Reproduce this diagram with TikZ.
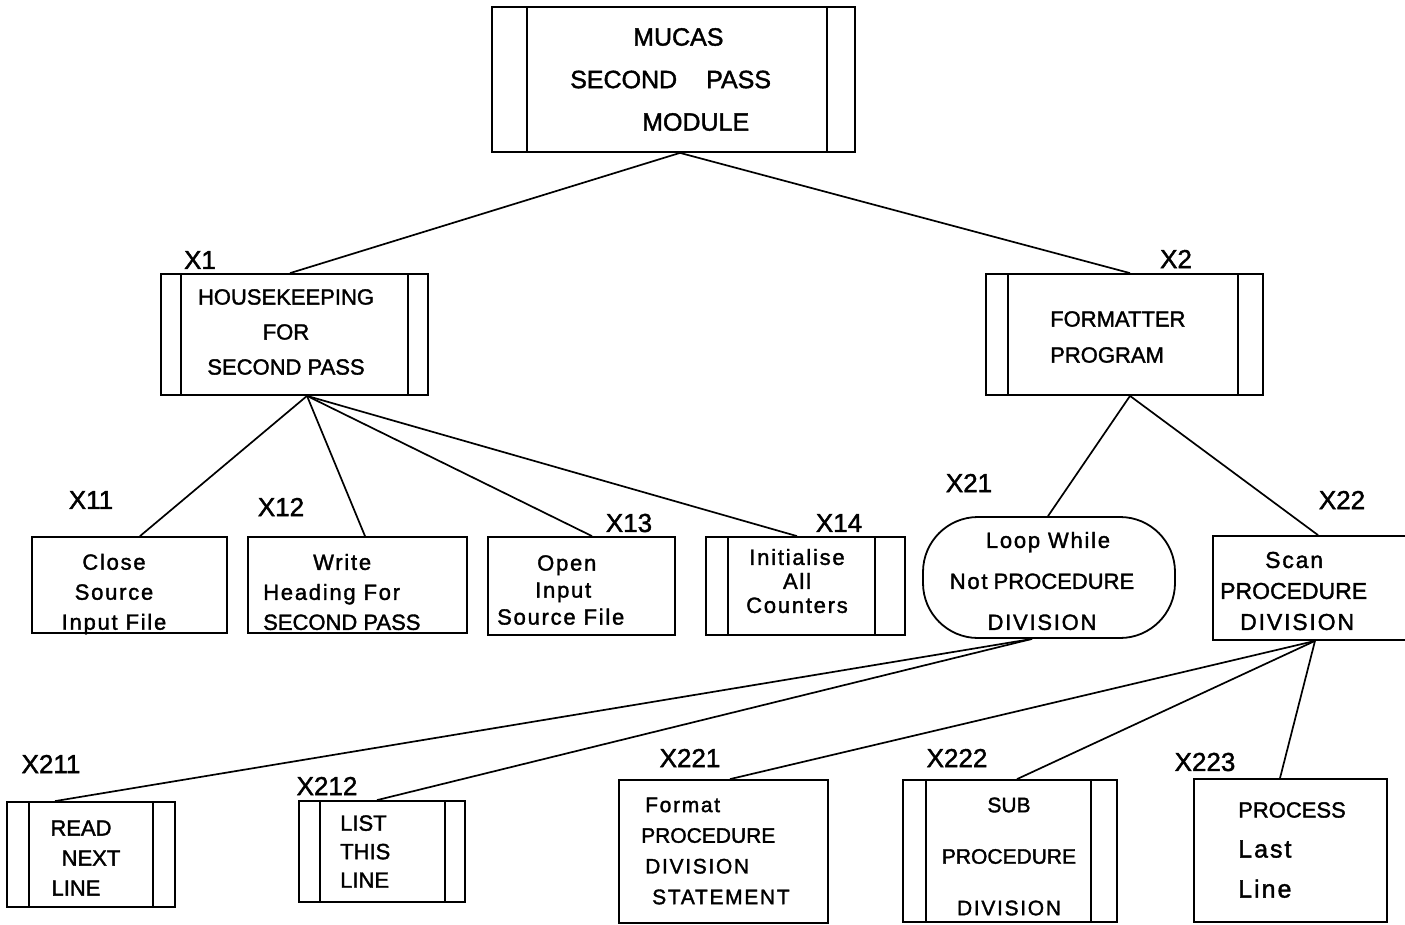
\documentclass[tikz,border=0pt]{standalone}
\usepackage{fontspec}
\setmainfont{Liberation Sans}[FakeBold=1.6]
\newfontfamily\wide{Liberation Sans}[LetterSpace=8,FakeBold=1.6]
\newcommand{\fsz}[2]{\fontsize{#1}{#2}\selectfont}
\begin{document}
\begin{tikzpicture}[x=1pt,y=-1pt,
  box/.style={draw, line width=1.8pt, rectangle, inner sep=0pt},
  bars/.style 2 args={path picture={
    \draw[line width=1.8pt] ([xshift=#1]path picture bounding box.north west) -- ([xshift=#1]path picture bounding box.south west);
    \draw[line width=1.8pt] ([xshift=-#2]path picture bounding box.north east) -- ([xshift=-#2]path picture bounding box.south east);}},
  txt/.style={inner sep=0pt, align=center},
  ltxt/.style={inner sep=0pt, align=left, anchor=west},
  lbl/.style={inner sep=0pt, font=\fsz{26}{30}},
  link/.style={line width=1.7pt}]
\useasboundingbox (0,0) rectangle (1405,924);
\clip (0,0) rectangle (1405,924);

% ---------- boxes ----------
\node[box, bars={35pt}{28pt}, minimum width=363pt, minimum height=145pt] (T) at (673.5,79.5) {};
\node[box, bars={20pt}{20pt}, minimum width=267pt, minimum height=121pt] (x1) at (294.5,334.5) {};
\node[box, bars={22pt}{25pt}, minimum width=277pt, minimum height=121pt] (x2) at (1124.5,334.5) {};
\node[box, minimum width=195pt, minimum height=96pt] (x11) at (129.5,585) {};
\node[box, minimum width=219pt, minimum height=96pt] (x12) at (357.5,585) {};
\node[box, minimum width=187pt, minimum height=98pt] (x13) at (581.5,586) {};
\node[box, bars={22pt}{30pt}, minimum width=199pt, minimum height=98pt] (x14) at (805.5,586) {};
\node[box, rounded corners=55pt, minimum width=252pt, minimum height=121pt] (x21) at (1049,577.5) {};
\node[box, minimum width=212pt, minimum height=104pt] (x22) at (1319,588) {};
\node[box, bars={22pt}{22pt}, minimum width=168pt, minimum height=105pt] (x211) at (91,854.5) {};
\node[box, bars={21pt}{20pt}, minimum width=166pt, minimum height=101pt] (x212) at (382,851.5) {};
\node[box, minimum width=209pt, minimum height=143pt] (x221) at (723.5,851.5) {};
\node[box, bars={23pt}{26pt}, minimum width=214pt, minimum height=142pt] (x222) at (1010,851) {};
\node[box, minimum width=193pt, minimum height=143pt] (x223) at (1290.5,850.5) {};

% ---------- texts ----------
\node[ltxt, font=\fsz{25}{42.5}] (Tt) at (570,79.5) {\hspace*{63pt}MUCAS\\SECOND\hspace{29pt}PASS\\\hspace*{72pt}MODULE};
\node[txt, font=\fsz{22}{35}] (x1t) at (286,332) {HOUSEKEEPING\\FOR\\SECOND PASS};
\node[ltxt, font=\fsz{22}{36}] (x2t) at (1050,337) {FORMATTER\\PROGRAM};
\node[txt, font={\wide\fsz{22}{30}}] (x11t) at (114,594) {Close\\Source\\Input File};
\node[ltxt, font={\wide\fsz{22}{30}}] (x12t) at (263,592) {\hspace*{50pt}Write\\Heading For\\{\rmfamily SECOND PASS}};
\node[ltxt, font={\wide\fsz{22}{27}}] (x13t) at (497,590) {\hspace*{40pt}Open\\\hspace*{38pt}Input\\Source File};
\node[txt, font={\wide\fsz{22}{24}}] (x14t) at (797,581) {Initialise\\All\\Counters};
\node[txt, font=\fsz{22}{41}] (x21t) at (1042,581) {\hspace*{12pt}{\wide Loop While}\\{\wide Not} PROCEDURE\\{\wide DIVISION}};
\node[ltxt, font=\fsz{23}{31}] (x22t) at (1220,591) {\hspace*{45pt}{\wide Scan}\\PROCEDURE\\\hspace*{20pt}{\wide DIVISION}};
\node[txt, font=\fsz{22}{30}] (x211t) at (83,858) {READ\hspace*{4pt}\\\hspace*{16pt}NEXT\\LINE\hspace*{14pt}};
\node[ltxt, font=\fsz{22}{28.5}] (x212t) at (340,851.5) {LIST\\THIS\\LINE};
\node[ltxt, font=\fsz{21}{30.7}] (x221t) at (641,851) {\hspace*{4pt}{\wide Format}\\PROCEDURE\\\hspace*{4pt}{\wide DIVISION}\\\hspace*{11pt}{\wide STATEMENT}};
\node[txt, font=\fsz{21}{51.5}] (x222t) at (1009,856.5) {SUB\\PROCEDURE\\{\wide DIVISION}};
\node[ltxt, font=\fsz{22}{40}] (x223t) at (1238,850) {PROCESS\\{\wide\fontsize{25}{40}\selectfont Last}\\{\wide\fontsize{25}{40}\selectfont Line}};

% ---------- labels ----------
\node[lbl] (l1) at (200,260) {X1};
\node[lbl] (l2) at (1176,259) {X2};
\node[lbl] (l11) at (91,500) {X11};
\node[lbl] (l12) at (281,507) {X12};
\node[lbl] (l13) at (629,523) {X13};
\node[lbl] (l14) at (839,523) {X14};
\node[lbl] (l21) at (969,483) {X21};
\node[lbl] (l22) at (1342,500) {X22};
\node[lbl] (l211) at (51,764) {X211};
\node[lbl] (l212) at (327,786) {X212};
\node[lbl] (l221) at (690,758) {X221};
\node[lbl] (l222) at (957,758) {X222};
\node[lbl] (l223) at (1205,762) {X223};

% ---------- connectors ----------
\draw[link] ([xshift=6.5pt]T.south) -- ([xshift=-4.5pt]x1.north);
\draw[link] ([xshift=6.5pt]T.south) -- ([xshift=5.5pt]x2.north);
\draw[link] ([xshift=12.5pt]x1.south) -- ([xshift=10.5pt]x11.north);
\draw[link] ([xshift=12.5pt]x1.south) -- ([xshift=7.5pt]x12.north);
\draw[link] ([xshift=12.5pt]x1.south) -- ([xshift=10.5pt]x13.north);
\draw[link] ([xshift=12.5pt]x1.south) -- ([xshift=-8.5pt]x14.north);
\draw[link] ([xshift=5.5pt]x2.south) -- ([xshift=-1pt]x21.north);
\draw[link] ([xshift=5.5pt]x2.south) -- ([xshift=-1pt]x22.north);
\draw[link] ([xshift=-17pt]x21.south) -- ([xshift=-36pt]x211.north);
\draw[link] ([xshift=-17pt]x21.south) -- ([xshift=-5pt]x212.north);
\draw[link] ([xshift=-4pt]x22.south) -- ([xshift=6.5pt]x221.north);
\draw[link] ([xshift=-4pt]x22.south) -- ([xshift=7pt]x222.north);
\draw[link] ([xshift=-4pt]x22.south) -- ([xshift=-10.5pt]x223.north);
\end{tikzpicture}
\end{document}
